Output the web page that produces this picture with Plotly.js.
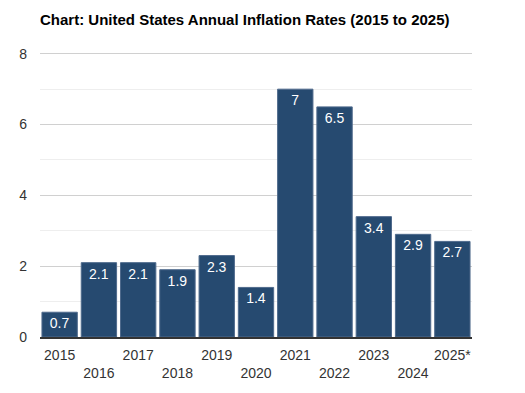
<!DOCTYPE html>
<html>
<head>
<meta charset="utf-8">
<script src="https://cdn.plot.ly/plotly-3.0.1.min.js"></script>
<style>html,body{margin:0;padding:0;background:#fff;}#chart{width:525px;height:393px;}</style>
</head>
<body>
<div id="chart"></div>
<script>
const years = ["2015","2016","2017","2018","2019","2020","2021","2022","2023","2024","2025*"];
const rates = [0.7, 2.1, 2.1, 1.9, 2.3, 1.4, 7, 6.5, 3.4, 2.9, 2.7];
const rateLabels = ["0.7","2.1","2.1","1.9","2.3","1.4","7","6.5","3.4","2.9","2.7"];
const yTicks = [0, 2, 4, 6, 8];

const tickText = years.map((y, i) => i % 2 === 0 ? y : "&nbsp;<br>" + y);

const trace = {
  type: "bar",
  x: years,
  y: rates,
  text: rateLabels,
  textposition: "inside",
  insidetextanchor: "end",
  textangle: 0,
  textfont: {family: "Arial, Liberation Sans, sans-serif", size: 14, color: "#ffffff"},
  marker: {color: "#264a70", line: {color: "#4f6a8c", width: 1}},
  hoverinfo: "none"
};

const layout = {
  width: 525, height: 393,
  margin: {l: 40, r: 53, t: 52, b: 56},
  paper_bgcolor: "#fff", plot_bgcolor: "#fff",
  bargap: 0.1,
  showlegend: false,
  font: {family: "Arial, Liberation Sans, sans-serif", size: 14, color: "#333"},
  title: {
    text: "<b>Chart: United States Annual Inflation Rates (2015 to 2025)</b>",
    font: {size: 15, color: "#000"},
    xref: "container", yref: "container",
    x: 40/525, xanchor: "left",
    y: 1 - 20/393, yanchor: "middle"
  },
  xaxis: {
    type: "category",
    tickmode: "array",
    tickvals: years,
    ticktext: tickText,
    showgrid: false,
    showline: true, linecolor: "#333", linewidth: 2,
    ticks: "", ticklabelstandoff: 4,
    tickfont: {size: 14, color: "#333"}
  },
  yaxis: {
    range: [0, 8.05],
    tickmode: "array",
    tickvals: yTicks,
    showgrid: true, gridcolor: "#d0d0d0", gridwidth: 1,
    minor: {dtick: 1, showgrid: true, gridcolor: "#eeeeee", gridwidth: 1},
    zeroline: false,
    showline: false,
    ticks: "",
    ticklabelstandoff: 12,
    tickfont: {size: 14, color: "#333"}
  }
};

Plotly.newPlot("chart", [trace], layout, {displayModeBar: false, staticPlot: true});
</script>
</body>
</html>
